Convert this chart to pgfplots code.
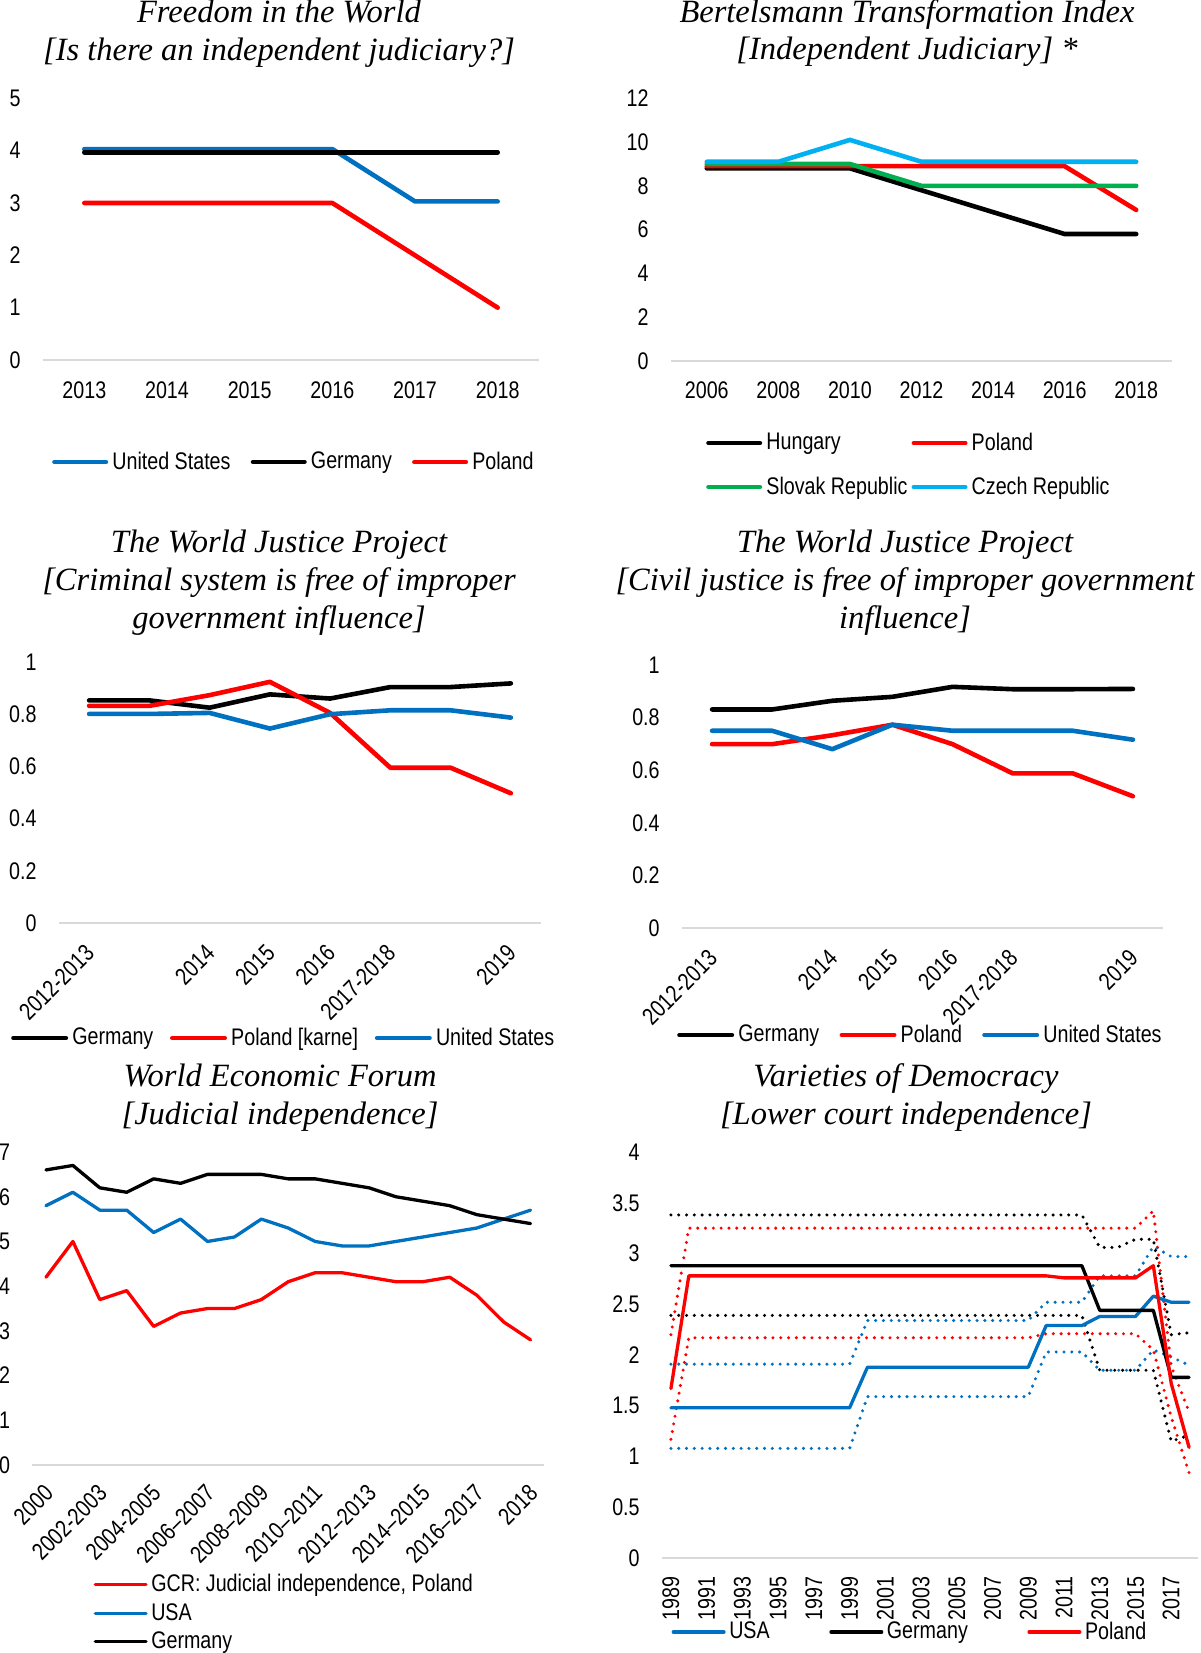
\documentclass[border=0pt]{standalone}
\usepackage{fontspec}
\setmainfont{Liberation Sans}[FakeStretch=0.82]
\newfontfamily\titlefamily{Liberation Serif}
\usepackage{pgfplots}
\usepackage{pgfplotstable}
\pgfplotsset{compat=1.18}
\definecolor{cblue}{HTML}{0070C0}
\definecolor{cred}{HTML}{FF0000}
\definecolor{cgreen}{HTML}{00B050}
\definecolor{ccyan}{HTML}{00B0F0}
\definecolor{basegray}{HTML}{D9D9D9}
\newcommand\tickfont{\fontsize{12}{14}\selectfont}
\newcommand\ttl{\titlefamily\itshape\fontsize{16.25}{19}\selectfont}
\pgfplotsset{
  panel/.style={
    scale only axis, clip=false,
    axis line style={draw=none},
    tick style={draw=none},
    major tick length=0pt,
    tick label style={font=\tickfont, inner sep=0pt},
    yticklabel style={anchor=east, xshift=-11pt},
    /pgf/number format/assume math mode=true,
    /pgf/number format/1000 sep={},
    extra y ticks={0},
    extra y tick labels={{}},
    extra y tick style={grid=major, major grid style={draw=basegray, line width=0.9pt}},
    legend style={draw=none, fill=none, inner sep=0pt, outer sep=0pt, font=\tickfont, cells={anchor=west}},
    every axis plot/.append style={line cap=round, line join=round, line width=2.3pt},
  },
  vdot/.style={line width=1.7pt, dash pattern=on 0pt off 3.9pt, line cap=round},
}
\pgfplotstableread{
year us usl usu de del deu pl pll plu
1989 1.48 1.08 1.91 2.88 2.39 3.38 1.67 1.17 2.20
1990 1.48 1.08 1.91 2.88 2.39 3.38 2.78 2.17 3.25
1991 1.48 1.08 1.91 2.88 2.39 3.38 2.78 2.17 3.25
1992 1.48 1.08 1.91 2.88 2.39 3.38 2.78 2.17 3.25
1993 1.48 1.08 1.91 2.88 2.39 3.38 2.78 2.17 3.25
1994 1.48 1.08 1.91 2.88 2.39 3.38 2.78 2.17 3.25
1995 1.48 1.08 1.91 2.88 2.39 3.38 2.78 2.17 3.25
1996 1.48 1.08 1.91 2.88 2.39 3.38 2.78 2.17 3.25
1997 1.48 1.08 1.91 2.88 2.39 3.38 2.78 2.17 3.25
1998 1.48 1.08 1.91 2.88 2.39 3.38 2.78 2.17 3.25
1999 1.48 1.08 1.91 2.88 2.39 3.38 2.78 2.17 3.25
2000 1.88 1.59 2.34 2.88 2.39 3.38 2.78 2.17 3.25
2001 1.88 1.59 2.34 2.88 2.39 3.38 2.78 2.17 3.25
2002 1.88 1.59 2.34 2.88 2.39 3.38 2.78 2.17 3.25
2003 1.88 1.59 2.34 2.88 2.39 3.38 2.78 2.17 3.25
2004 1.88 1.59 2.34 2.88 2.39 3.38 2.78 2.17 3.25
2005 1.88 1.59 2.34 2.88 2.39 3.38 2.78 2.17 3.25
2006 1.88 1.59 2.34 2.88 2.39 3.38 2.78 2.17 3.25
2007 1.88 1.59 2.34 2.88 2.39 3.38 2.78 2.17 3.25
2008 1.88 1.59 2.34 2.88 2.39 3.38 2.78 2.17 3.25
2009 1.88 1.59 2.34 2.88 2.39 3.38 2.78 2.17 3.25
2010 2.29 2.03 2.52 2.88 2.39 3.38 2.78 2.21 3.25
2011 2.29 2.03 2.52 2.88 2.39 3.38 2.76 2.21 3.25
2012 2.29 2.03 2.52 2.88 2.39 3.38 2.76 2.21 3.25
2013 2.38 1.85 2.78 2.44 1.85 3.06 2.76 2.21 3.25
2014 2.38 1.85 2.78 2.44 1.85 3.06 2.76 2.21 3.25
2015 2.38 1.85 2.78 2.44 1.85 3.14 2.76 2.21 3.25
2016 2.58 2.05 3.07 2.44 1.85 3.14 2.88 2.05 3.42
2017 2.52 1.98 2.97 1.78 1.15 2.20 1.72 1.39 1.89
2018 2.52 1.90 2.97 1.78 1.21 2.22 1.09 0.84 1.44
}\vdem
\begin{document}
\begin{tikzpicture}
\useasboundingbox (0pt,0pt) rectangle (600pt,-826.5pt);
% ---------- titles ----------
\node[font=\ttl, anchor=base] at (139.5pt,-11.5pt) {Freedom in the World};
\node[font=\ttl, anchor=base] at (139.5pt,-30.5pt) {[Is there an independent judiciary?]};
\node[font=\ttl, anchor=base] at (453.5pt,-11.5pt) {Bertelsmann Transformation Index};
\node[font=\ttl, anchor=base] at (453.5pt,-30pt) {[Independent Judiciary] *};
\node[font=\ttl, anchor=base] at (139.5pt,-276pt) {The World Justice Project};
\node[font=\ttl, anchor=base] at (139.5pt,-295pt) {[Criminal system is free of improper};
\node[font=\ttl, anchor=base] at (139.5pt,-314pt) {government influence]};
\node[font=\ttl, anchor=base] at (452.5pt,-276pt) {The World Justice Project};
\node[font=\ttl, anchor=base] at (452.5pt,-295pt) {[Civil justice is free of improper government};
\node[font=\ttl, anchor=base] at (452.5pt,-314pt) {influence]};
\node[font=\ttl, anchor=base] at (140pt,-543pt) {World Economic Forum};
\node[font=\ttl, anchor=base] at (140pt,-562pt) {[Judicial independence]};
\node[font=\ttl, anchor=base] at (453pt,-543pt) {Varieties of Democracy};
\node[font=\ttl, anchor=base] at (453pt,-562pt) {[Lower court independence]};

% ---------- Panel 1 ----------
\begin{axis}[panel, at={(21.5pt,-180pt)}, anchor=south west, width=248pt, height=130.85pt,
  xmin=-0.5, xmax=5.5, ymin=0, ymax=5,
  xtick={0,...,5}, xticklabels={2013,2014,2015,2016,2017,2018},
  ytick={0,1,2,3,4,5},
  xticklabel style={anchor=north, yshift=-10.5pt},
  legend columns=3,
  legend style={at={(0.01855,-0.3898)}, anchor=west,
    /tikz/every odd column/.append style={column sep=0.1pt},
    /tikz/every even column/.append style={column sep=8.1pt}},
  legend image code/.code={\draw[#1, line width=2.2pt] (0pt,0pt) -- (25.8pt,0pt);},
]
\addplot[cblue] coordinates {(0,4.03)(1,4.03)(2,4.03)(3,4.03)(4,3.03)(5,3.03)};
\addlegendentry{United States}
\addplot[black] coordinates {(0,3.97)(1,3.97)(2,3.97)(3,3.97)(4,3.97)(5,3.97)};
\addlegendentry{Germany}
\addplot[cred] coordinates {(0,3)(1,3)(2,3)(3,3)(4,2)(5,1)};
\addlegendentry{Poland}
\end{axis}

% ---------- Panel 2 ----------
\begin{axis}[panel, at={(335.5pt,-180.5pt)}, anchor=south west, width=250.5pt, height=131.35pt,
  xmin=-0.5, xmax=6.5, ymin=0, ymax=12,
  xtick={0,...,6}, xticklabels={2006,2008,2010,2012,2014,2016,2018},
  ytick={0,2,4,6,8,10,12},
  xticklabel style={anchor=north, yshift=-10pt},
  legend columns=2,
  legend style={at={(0.0703,-0.3959)}, anchor=west, row sep=7.8pt,
    /tikz/every odd column/.append style={column sep=0.1pt},
    /tikz/every even column/.append style={column sep=0pt}},
  legend image code/.code={\draw[#1, line width=2.2pt] (0pt,0pt) -- (25.8pt,0pt);},
]
\addplot[black] coordinates {(0,8.8)(1,8.8)(2,8.8)(3,7.8)(4,6.8)(5,5.8)(6,5.8)};
\addlegendentry{Hungary}
\addplot[cred] coordinates {(0,8.9)(1,8.9)(2,8.9)(3,8.9)(4,8.9)(5,8.9)(6,6.9)};
\addlegendentry{Poland}
\addplot[cgreen] coordinates {(0,9)(1,9)(2,9)(3,8)(4,8)(5,8)(6,8)};
\addlegendentry{Slovak Republic}
\addplot[ccyan] coordinates {(0,9.1)(1,9.1)(2,10.1)(3,9.1)(4,9.1)(5,9.1)(6,9.1)};
\addlegendentry{Czech Republic}
\end{axis}

% ---------- Panel 3 ----------
\begin{axis}[panel, at={(29.5pt,-461.5pt)}, anchor=south west, width=241pt, height=130.5pt,
  xmin=-0.5, xmax=7.5, ymin=0, ymax=1,
  xtick={0,...,7}, xticklabels={2012-2013,,2014,2015,2016,2017-2018,,2019},
  ytick={0,0.2,0.4,0.6,0.8,1},
  xticklabel style={xshift=0.5pt, yshift=-13pt, rotate=45, anchor=east},
  legend columns=3,
  legend style={at={(-0.0992,-0.4406)}, anchor=west,
    /tikz/every odd column/.append style={column sep=0.1pt},
    /tikz/every even column/.append style={column sep=6.35pt}},
  legend image code/.code={\draw[#1, line width=2.2pt] (0pt,0pt) -- (26.3pt,0pt);},
]
\addplot[black] coordinates {(0,0.853)(1,0.853)(2,0.825)(3,0.876)(4,0.86)(5,0.904)(6,0.904)(7,0.918)};
\addlegendentry{Germany}
\addplot[cred] coordinates {(0,0.832)(1,0.832)(2,0.873)(3,0.924)(4,0.805)(5,0.595)(6,0.595)(7,0.497)};
\addlegendentry{Poland [karne]}
\addplot[cblue] coordinates {(0,0.801)(1,0.801)(2,0.805)(3,0.745)(4,0.80)(5,0.815)(6,0.815)(7,0.787)};
\addlegendentry{United States}
\end{axis}

% ---------- Panel 4 ----------
\begin{axis}[panel, at={(341pt,-464pt)}, anchor=south west, width=240.5pt, height=131.5pt,
  xmin=-0.5, xmax=7.5, ymin=0, ymax=1,
  xtick={0,...,7}, xticklabels={2012-2013,,2014,2015,2016,2017-2018,,2019},
  ytick={0,0.2,0.4,0.6,0.8,1},
  xticklabel style={xshift=0.5pt, yshift=-13pt, rotate=45, anchor=east},
  legend columns=3,
  legend style={at={(-0.0100,-0.4068)}, anchor=west,
    /tikz/every odd column/.append style={column sep=0.1pt},
    /tikz/every even column/.append style={column sep=8.1pt}},
  legend image code/.code={\draw[#1, line width=2.2pt] (0pt,0pt) -- (26.3pt,0pt);},
]
\addplot[black] coordinates {(0,0.831)(1,0.831)(2,0.864)(3,0.879)(4,0.917)(5,0.908)(6,0.908)(7,0.909)};
\addlegendentry{Germany}
\addplot[cred] coordinates {(0,0.699)(1,0.699)(2,0.733)(3,0.773)(4,0.699)(5,0.588)(6,0.588)(7,0.501)};
\addlegendentry{Poland}
\addplot[cblue] coordinates {(0,0.75)(1,0.75)(2,0.68)(3,0.773)(4,0.75)(5,0.75)(6,0.75)(7,0.716)};
\addlegendentry{United States}
\end{axis}

% ---------- Panel 5 ----------
\begin{axis}[panel, at={(16.25pt,-732.5pt)}, anchor=south west, width=255.75pt, height=156.5pt,
  xmin=-0.5, xmax=18.5, ymin=0, ymax=7,
  xtick={0,2,...,18},
  xticklabels={2000,2002-2003,2004-2005,2006–2007,2008–2009,2010–2011,2012–2013,2014–2015,2016–2017,2018},
  ytick={0,1,2,3,4,5,6,7},
  xticklabel style={xshift=1.5pt, yshift=-12pt, rotate=45, anchor=east},
  every axis plot/.append style={line width=1.65pt},
  legend columns=1,
  legend style={at={(0.1196,-0.4728)}, anchor=west, row sep=0.25pt,
    /tikz/every odd column/.append style={column sep=-0.2pt}},
  legend image code/.code={\draw[#1, line width=1.65pt] (0pt,0pt) -- (25.35pt,0pt);},
]
\addplot[cred] coordinates {(0,4.2)(1,5.0)(2,3.7)(3,3.9)(4,3.1)(5,3.4)(6,3.5)(7,3.5)(8,3.7)(9,4.1)(10,4.3)(11,4.3)(12,4.2)(13,4.1)(14,4.1)(15,4.2)(16,3.8)(17,3.2)(18,2.8)};
\addlegendentry{GCR: Judicial independence, Poland}
\addplot[cblue] coordinates {(0,5.8)(1,6.1)(2,5.7)(3,5.7)(4,5.2)(5,5.5)(6,5.0)(7,5.1)(8,5.5)(9,5.3)(10,5.0)(11,4.9)(12,4.9)(13,5.0)(14,5.1)(15,5.2)(16,5.3)(17,5.5)(18,5.7)};
\addlegendentry{USA}
\addplot[black] coordinates {(0,6.6)(1,6.7)(2,6.2)(3,6.1)(4,6.4)(5,6.3)(6,6.5)(7,6.5)(8,6.5)(9,6.4)(10,6.4)(11,6.3)(12,6.2)(13,6.0)(14,5.9)(15,5.8)(16,5.6)(17,5.5)(18,5.4)};
\addlegendentry{Germany}
\end{axis}

% ---------- Panel 6 ----------
\begin{axis}[panel, at={(331pt,-779pt)}, anchor=south west, width=268pt, height=203pt,
  xmin=1988.5, xmax=2018.5, ymin=0, ymax=4,
  xtick={1989,1991,...,2017},
  ytick={0,0.5,1,1.5,2,2.5,3,3.5,4},
  xticklabel style={yshift=-9pt, rotate=90, anchor=east},
  every axis plot/.append style={line width=1.65pt},
  legend columns=3,
  legend style={at={(0.0180,-0.1823)}, anchor=west,
    /tikz/every odd column/.append style={column sep=-0.2pt},
    /tikz/every even column/.append style={column sep=27.8pt}},
  legend image code/.code={\draw[#1, line width=1.65pt] (0pt,0pt) -- (25.35pt,0pt);},
]
\addplot[cblue, vdot, forget plot] table[x=year, y=usl] {\vdem};
\addplot[cblue, vdot, forget plot] table[x=year, y=usu] {\vdem};
\addplot[black, vdot, forget plot] table[x=year, y=del] {\vdem};
\addplot[black, vdot, forget plot] table[x=year, y=deu] {\vdem};
\addplot[cred, vdot, forget plot] table[x=year, y=pll] {\vdem};
\addplot[cred, vdot, forget plot] table[x=year, y=plu] {\vdem};
\addplot[cblue] table[x=year, y=us] {\vdem};
\addlegendentry{USA}
\addplot[black] table[x=year, y=de] {\vdem};
\addlegendentry{Germany}
\addplot[cred] table[x=year, y=pl] {\vdem};
\addlegendentry{Poland}
\end{axis}
\end{tikzpicture}
\end{document}
